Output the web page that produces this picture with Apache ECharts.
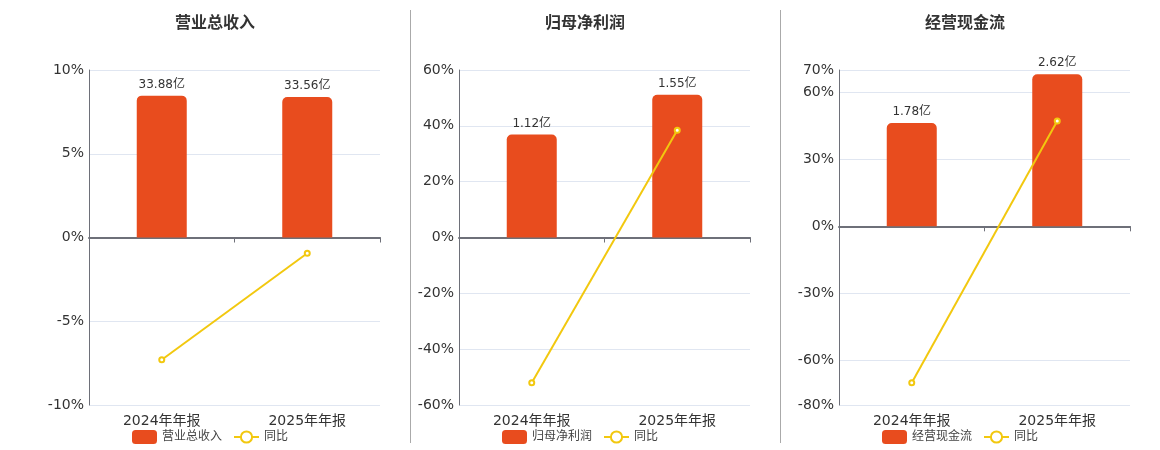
<!DOCTYPE html>
<html>
<head>
<meta charset="utf-8">
<script src="https://cdn.jsdelivr.net/npm/echarts@6/dist/echarts.min.js"></script>
<style>
  html, body { margin: 0; padding: 0; background: #fff; }
  #main { width: 1160px; height: 450px; }
</style>
</head>
<body>
<div id="main"></div>
<script>
var categories = ['2024年年报', '2025年年报'];

var titles = ['营业总收入', '归母净利润', '经营现金流'];
var amounts = [
  [33.88, 33.56],
  [1.12, 1.55],
  [1.78, 2.62]
];
var yoy = [
  [-7.3, -0.94],
  [-52.0, 38.4],
  [-70.0, 47.2]
];
var pctTicks = [
  [-10, -5, 0, 5, 10],
  [-60, -40, -20, 0, 20, 40, 60],
  [-80, -60, -30, 0, 30, 60, 70]
];

var barColor = '#E84C1E';
var lineColor = '#F2C80F';
var gridLefts = [89, 459, 839];
var centers = [210, 580, 960];
var amountRange = [[-40, 40], [-1.82, 1.82], [-3.08, 2.695]];
var fontFam = '"DejaVu Sans", "Noto Sans CJK SC", sans-serif';

var myChart = echarts.init(document.getElementById('main'));

var option = {
  animation: false,
  textStyle: { fontFamily: fontFam },
  title: [],
  legend: [],
  grid: [],
  xAxis: [],
  yAxis: [],
  series: [],
  graphic: [
    { type: 'line', shape: { x1: 410.5, y1: 10, x2: 410.5, y2: 443 }, style: { stroke: '#aaa', lineWidth: 1 } },
    { type: 'line', shape: { x1: 780.5, y1: 10, x2: 780.5, y2: 443 }, style: { stroke: '#aaa', lineWidth: 1 } }
  ]
};

for (var i = 0; i < 3; i++) {
  var ticks = pctTicks[i];
  option.title.push({
    text: titles[i],
    left: centers[i],
    textAlign: 'center',
    top: 11,
    textStyle: { fontSize: 16, fontWeight: 'bold', color: '#333', fontFamily: fontFam }
  });
  option.legend.push({
    data: [titles[i], '同比'],
    left: centers[i] - 83,
    top: 425,
    itemWidth: 25,
    itemHeight: 14,
    itemGap: 11,
    textStyle: { fontSize: 12, color: '#444', fontFamily: fontFam }
  });
  option.grid.push({ left: gridLefts[i], top: 70, width: 291, height: 335 });

  // labels axis at bottom
  option.xAxis.push({
    type: 'category',
    gridIndex: i,
    data: categories,
    position: 'bottom',
    axisLine: { show: false, onZero: false },
    axisTick: { show: false },
    axisLabel: { fontSize: 14, color: '#333', margin: 9, fontFamily: fontFam }
  });
  // zero line axis
  option.xAxis.push({
    type: 'category',
    gridIndex: i,
    data: categories,
    position: 'top',
    axisLine: { show: true, onZero: true, onZeroAxisIndex: i * 2, lineStyle: { color: '#6E7079', width: 2 } },
    axisTick: { show: true, inside: true, length: 5, lineStyle: { color: '#6E7079' } },
    axisLabel: { show: false },
    splitLine: { show: false }
  });

  option.yAxis.push({
    type: 'value',
    gridIndex: i,
    position: 'left',
    min: ticks[0],
    max: ticks[ticks.length - 1],
    interval: 10,
    axisLine: { show: true, lineStyle: { color: '#6E7079' } },
    axisTick: { show: false, customValues: ticks },
    axisLabel: { customValues: ticks, fontSize: 14, color: '#333', margin: 5, formatter: '{value}%', fontFamily: fontFam },
    splitLine: { show: true, lineStyle: { color: '#E0E6F1' } }
  });
  option.yAxis.push({
    type: 'value',
    gridIndex: i,
    position: 'right',
    show: false,
    min: amountRange[i][0],
    max: amountRange[i][1],
    splitLine: { show: false }
  });

  option.series.push({
    name: titles[i],
    type: 'bar',
    xAxisIndex: i * 2,
    yAxisIndex: i * 2 + 1,
    data: amounts[i],
    barWidth: 50,
    itemStyle: { color: barColor, borderRadius: [5, 5, 0, 0] },
    label: {
      show: true,
      position: 'top',
      fontSize: 12,
      color: '#333',
      fontFamily: fontFam,
      formatter: function (p) { return p.value.toFixed(2) + '亿'; }
    }
  });
  option.series.push({
    name: '同比',
    type: 'line',
    xAxisIndex: i * 2,
    yAxisIndex: i * 2,
    data: yoy[i],
    symbol: 'emptyCircle',
    symbolSize: 5,
    lineStyle: { color: lineColor, width: 2 },
    itemStyle: { color: lineColor }
  });
}

myChart.setOption(option);
</script>
</body>
</html>
